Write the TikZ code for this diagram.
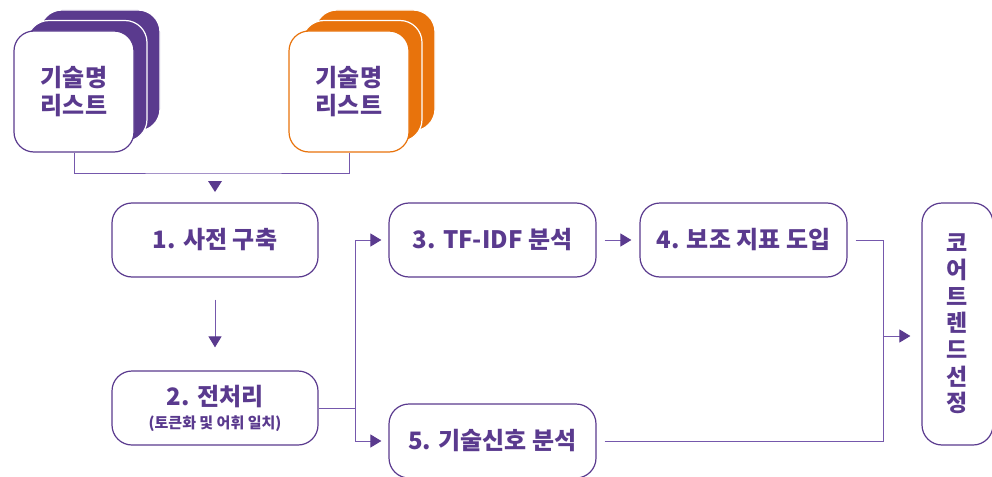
\documentclass[tikz,border=0pt]{standalone}
\usepackage{fontspec}
\setmainfont{Noto Sans CJK KR}[BoldFont={Noto Sans CJK KR Black}]
\usetikzlibrary{arrows.meta}
\definecolor{pur}{HTML}{5A3A8E}
\definecolor{lpur}{HTML}{7558AC}
\definecolor{org}{HTML}{E8730C}
\tikzset{
  stepbox/.style={draw=pur, line width=1.2pt, fill=white, rounded corners=20pt,
    minimum width=206pt, minimum height=74pt, inner sep=0pt, align=center,
    text=pur, font=\fontsize{24}{27}\selectfont\bfseries},
  stackfront/.style={draw=#1, line width=1.2pt, fill=white, rounded corners=20pt,
    minimum width=120pt, minimum height=121pt, inner sep=0pt, align=center,
    text=pur, font=\fontsize{24}{28}\selectfont\bfseries},
  stackback/.style={draw=white, line width=1.2pt, fill=#1, rounded corners=22pt,
    minimum width=120pt, minimum height=121pt, inner sep=0pt},
  conn/.style={draw=lpur, line width=1pt},
  arr/.style={conn, -{Triangle[width=13pt,length=11pt,fill=pur,color=pur]}},
}
\begin{document}
\begin{tikzpicture}[x=1pt,y=-1pt]
\useasboundingbox (0,0) rectangle (992,476);
% stacks
\node[stackback=pur] (lb2) at (100,70.5) {};
\node[stackback=pur] (lb1) at (87,81) {};
\node[stackfront=pur] (lf) at (74,91.5) {기술명\\리스트};
\node[stackback=org] (ob2) at (375,70.5) {};
\node[stackback=org] (ob1) at (362,81) {};
\node[stackfront=org] (of) at (349,91.5) {기술명\\리스트};
% steps
\node[stepbox] (n1) at (215,240) {1. 사전 구축};
\node[stepbox] (n2) at (215,408) {2. 전처리\\[-4pt]{\fontsize{15}{17}\selectfont (토큰화 및 어휘 일치)}};
\node[stepbox, minimum width=207pt] (n3) at (492.5,240) {3. TF-IDF 분석};
\node[stepbox, minimum width=207pt] (n4) at (743.5,240) {4. 보조 지표 도입};
\node[stepbox, minimum width=207pt] (n5) at (492.5,441) {5. 기술신호 분석};
\node[stepbox, minimum width=71pt, minimum height=242pt, font=\fontsize{23}{26.7}\selectfont\bfseries] (n6) at (957.5,324) {코\\어\\트\\렌\\드\\선\\정};
% connectors
\coordinate (j) at (215,173);
\coordinate (tri) at (215,187);
\coordinate (b) at (355,408);
\coordinate (m) at (883,336);
\draw[conn] (lf.south) |- (j) -| (of.south);
\fill[pur] (tri) ++(-7,-6) -- ++(14,0) -- ++(-7,11) -- cycle;
\draw[arr, shorten <=22pt, shorten >=23pt] (n1) -- (n2);
\draw[conn] (n2.east) -- (b);
\draw[arr, shorten >=7pt] (b) |- (n3.west);
\draw[arr, shorten >=7pt] (b) |- (n5.west);
\draw[arr, shorten <=8pt, shorten >=8pt] (n3) -- (n4);
\draw[conn, shorten <=8pt] (n4.east) -| (m);
\draw[conn, shorten <=8pt] (n5.east) -| (m);
\draw[arr, shorten >=11pt] (m) -- (m -| n6.west);
\end{tikzpicture}
\end{document}
